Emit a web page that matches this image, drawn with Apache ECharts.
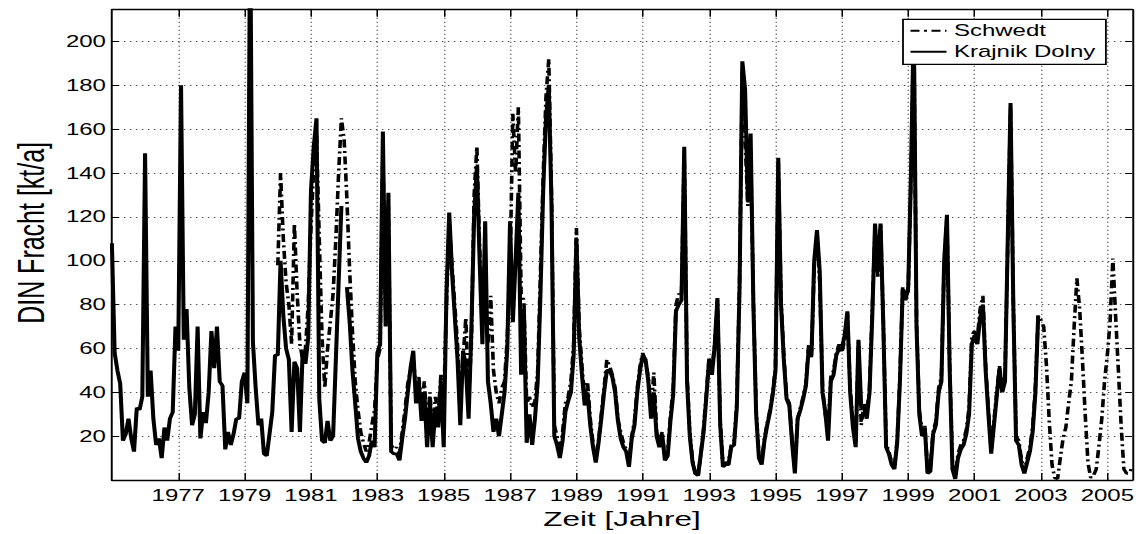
<!DOCTYPE html>
<html>
<head>
<meta charset="utf-8">
<script src="https://cdn.jsdelivr.net/npm/echarts@6/dist/echarts.min.js"></script>
<style>
  html, body { margin: 0; padding: 0; background: #fff; overflow: hidden; }
  /* the original figure is stretched 1.5x horizontally, text included */
  #chart { width: 760.667px; height: 534px; transform: scaleX(1.5); transform-origin: 0 0; }
</style>
</head>
<body>
<div id="chart"></div>
<script>
// DIN-Fracht, Monatswerte (Index 0 = Jan des Startjahres)
var krajnikStart = 1975;
var krajnik = [
  108, 58, 50, 44, 18, 21, 28, 19, 13, 33, 32, 38,      // 1975
  149, 38, 50, 28, 16, 19, 10, 24, 18, 28, 31, 70,      // 1976
  59, 180, 64, 78, 42, 25, 30, 70, 19, 31, 26, 40,      // 1977
  68, 51, 70, 45, 43, 14, 22, 16, 21, 28, 28, 45,       // 1978
  49, 35, 260, 63, 42, 25, 28, 12, 11, 21, 31, 57,      // 1979
  57, 100, 75, 60, 55, 22, 54, 51, 22, 59, 53, 65,      // 1980
  132, 152, 165, 37, 18, 17, 27, 18, 20, 55, 90, 125,   // 1981
  null, 88, 72, 50, 35, 19, 13, 10, 8, 11, 18, 15,      // 1982
  58, 62, 159, 70, 131, 13, 12, 12, 9, 19, 28, 40,      // 1983
  51, 59, 35, 45, 27, 40, 15, 36, 15, 33, 24, 45,       // 1984
  15, 85, 122, 95, 75, 55, 25, 59, 52, 28, 68, 120,     // 1985
  143, 100, 62, 118, 45, 35, 22, 28, 20, 30, 40, 60,    // 1986
  118, 72, 100, 131, 48, 78, 17, 30, 16, 28, 45, 85,    // 1987
  133, 165, 180, 125, 20, 16, 10, 18, 31, 36, 40, 57,   // 1988
  110, 65, 48, 34, 40, 25, 15, 8, 17, 28, 40, 50,       // 1989
  50, 47, 40, 27, 19, 15, 13, 6, 19, 25, 40, 50,        // 1990
  57, 55, 45, 28, 40, 20, 15, 21, 9, 11, 27, 39,        // 1991
  77, 80, 82, 152, 45, 20, 8, 3, 2, 12, 22, 38,         // 1992
  55, 48, 61, 83, 25, 6, 7, 7, 15, 16, 33, 88,          // 1993
  191, 178, 127, 158, 80, 30, 10, 7, 18, 25, 31, 39,    // 1994
  50, 147, 80, 55, 37, 34, 17, 3, 28, 32, 37, 43,       // 1995
  60, 57, 100, 114, 95, 40, 31, 18, 45, 48, 57, 60,     // 1996
  60, 66, 77, 40, 24, 15, 64, 33, 33, 28, 40, 75,       // 1997
  117, 95, 117, 70, 15, 12, 7, 5, 17, 45, 87, 82,       // 1998
  88, 140, 210, 70, 30, 20, 24, 3, 4, 21, 25, 40,       // 1999
  45, 100, 121, 50, 5, 0.5, 10, 14, 16, 21, 30, 62,     // 2000
  66, 62, 74, 80, 50, 30, 12, 25, 38, 51, 40, 45,       // 2001
  110, 172, 80, 18, 16, 7, 3, 8, 13, 22, 40, 75         // 2002
];

var schwedtStart = 1980;
var schwedt = [
  98, 140, 110, 90, 80, 62, 117, 85, 62, 55, 60, 80,    // 1980
  115, 143, 158, 110, 65, 42, 60, 72, 85, 110, 140, 165,// 1981
  155, 128, 95, 68, 45, 32, 22, 17, 13, 17, 25, 32,     // 1982
  55, 60, 150, 75, 125, 16, 14, 15, 12, 22, 32, 44,     // 1983
  50, 55, 42, 47, 33, 45, 22, 40, 22, 38, 30, 48,       // 1984
  35, 80, 118, 98, 80, 62, 35, 55, 74, 38, 62, 130,     // 1985
  152, 105, 75, 80, 62, 84, 50, 40, 35, 42, 45, 65,     // 1986
  95, 167, 140, 170, 85, 82, 35, 38, 33, 36, 50, 95,    // 1987
  140, 175, 192, 130, 25, 20, 12, 22, 35, 38, 45, 62,   // 1988
  115, 70, 52, 38, 45, 28, 17, 9, 18, 30, 42, 55,       // 1989
  52, 48, 42, 28, 22, 17, 14, 8, 20, 27, 42, 52,        // 1990
  58, 54, 47, 32, 49, 22, 17, 22, 10, 13, 29, 42,       // 1991
  80, 85, 84, 150, 48, 22, 9, 3, 2, 12, 24, 40,         // 1992
  56, 50, 62, 82, 27, 7, 8, 8, 16, 18, 35, 90,          // 1993
  188, 155, 125, 150, 82, 32, 11, 8, 19, 26, 32, 40,    // 1994
  52, 145, 82, 57, 38, 35, 18, 5, 28, 33, 38, 44,       // 1995
  62, 56, 98, 112, 90, 42, 30, 22, 47, 50, 58, 62,      // 1996
  58, 64, 76, 42, 26, 17, 63, 25, 35, 30, 42, 78,       // 1997
  115, 92, 116, 72, 17, 13, 8, 6, 18, 47, 88, 84,       // 1998
  86, 138, 205, 72, 32, 22, 25, 4, 6, 22, 27, 42,       // 1999
  47, 98, 120, 52, 7, 2, 12, 16, 18, 23, 33, 66,        // 2000
  68, 65, 78, 84, 52, 32, 14, 27, 40, 52, 42, 48,       // 2001
  108, 170, 82, 20, 18, 9, 4, 10, 15, 24, 43, 75,       // 2002
  73, 70, 52, 27, 7, 1, 0.5, 10, 19, 24, 35, 45,        // 2003
  70, 92, 78, 55, 30, 8, 1, 2, 5, 16, 28, 45,           // 2004
  57, 72, 101, 75, 50, 25, 5, 3, 3, 6                   // 2005
];

var xTicks = [1977, 1979, 1981, 1983, 1985, 1987, 1989, 1991, 1993, 1995, 1997, 1999, 2001, 2003, 2005];
var yTicks = [20, 40, 60, 80, 100, 120, 140, 160, 180, 200];

function monthly(values, firstYear) {
  return values.map(function (v, i) { return [firstYear + i / 12, v]; });
}

var font = 'Liberation Sans, Arial, Helvetica, sans-serif';
var gridLine = { show: true, lineStyle: { color: '#555', width: 1, type: [1, 3] } };
var frame = { show: true, onZero: false, lineStyle: { color: '#000', width: 1.3 } };
// legend samples drawn as filled shapes: dash-dot and solid
var dashDotIcon = 'path://M0,0h6v2h-6z M9,0h2v2h-2z M14,0h6v2h-6z M23,0h1v2h-1z';
var solidIcon = 'path://M0,0h24v2h-24z';

var chart = echarts.init(document.getElementById('chart'), null, { renderer: 'svg' });
chart.setOption({
  animation: false,
  textStyle: { fontFamily: font },
  grid: { left: 64, right: 6.2, top: 9.7, bottom: 52 },
  legend: {
    orient: 'vertical',
    left: 602, top: 19.3,
    itemWidth: 24, itemHeight: 2, itemGap: 2,
    padding: [2, 7, 3, 5],
    borderColor: '#000', borderWidth: 1.2, backgroundColor: '#fff',
    selectedMode: false,
    itemStyle: { color: '#000' },
    textStyle: { fontFamily: font, fontSize: 16, color: '#000', lineHeight: 19 },
    data: [
      { name: 'Schwedt', icon: dashDotIcon },
      { name: 'Krajnik Dolny', icon: solidIcon }
    ]
  },
  xAxis: [{
    type: 'value', min: 1975, max: 2005.75,
    name: 'Zeit [Jahre]', nameLocation: 'middle', nameGap: 18,
    nameTextStyle: { fontFamily: font, fontSize: 21, color: '#000' },
    axisLine: frame,
    axisTick: { show: true, inside: true, length: 7, customValues: xTicks, lineStyle: { color: '#000', width: 1 } },
    axisLabel: {
      customValues: xTicks, margin: 7, fontFamily: font, fontSize: 16, color: '#000',
      formatter: function (v) { return String(v); }
    },
    splitLine: gridLine
  }, {
    type: 'value', position: 'top', min: 1975, max: 2005.75,
    axisLine: frame,
    axisTick: { show: true, inside: true, length: 7, customValues: xTicks, lineStyle: { color: '#000', width: 1 } },
    axisLabel: { show: false },
    splitLine: { show: false }
  }],
  yAxis: [{
    type: 'value', min: 0, max: 214.5,
    name: 'DIN Fracht [kt/a]', nameLocation: 'middle', nameGap: 33,
    nameTextStyle: { fontFamily: font, fontSize: 25, color: '#000', padding: [0, 0, 0, 24] },
    axisLine: frame,
    axisTick: { show: true, inside: true, length: 4.7, customValues: yTicks, lineStyle: { color: '#000', width: 1 } },
    axisLabel: { customValues: yTicks, margin: 4, fontFamily: font, fontSize: 16, color: '#000' },
    splitLine: gridLine
  }, {
    type: 'value', position: 'right', min: 0, max: 214.5,
    axisLine: frame,
    axisTick: { show: true, inside: true, length: 4.7, customValues: yTicks, lineStyle: { color: '#000', width: 1 } },
    axisLabel: { show: false },
    splitLine: { show: false }
  }],
  series: [{
    name: 'Schwedt',
    type: 'line',
    data: monthly(schwedt, schwedtStart),
    symbol: 'none',
    silent: true,
    lineStyle: { color: '#000', width: 2.4, type: [8, 3.5, 2, 3.5] },
    itemStyle: { color: '#000' }
  }, {
    name: 'Krajnik Dolny',
    type: 'line',
    data: monthly(krajnik, krajnikStart),
    symbol: 'none',
    silent: true,
    lineStyle: { color: '#000', width: 2.7 },
    itemStyle: { color: '#000' }
  }]
});
</script>
</body>
</html>
